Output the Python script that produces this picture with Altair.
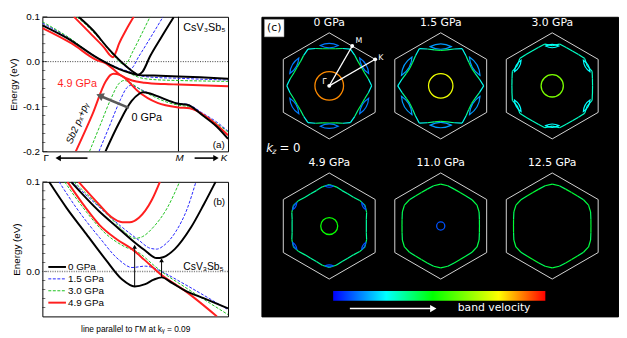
import math
import altair as alt
import pandas as pd

FONT = "Liberation Sans"
FONT_C = "DejaVu Sans"

# ---------------- series styling ----------------
PRESSURES = ["0 GPa", "1.5 GPa", "3.0 GPa", "4.9 GPa"]
LINE_COLORS = ["#000000", "#2424ff", "#1fc21f", "#ff1f1f"]
LINE_DASH = [None, [3, 1.6], [3, 1.6], None]
LINE_WIDTH = [2.0, 1.0, 1.0, 2.0]

# ---------------- panel (a): bands along Gamma-M-K (k: 0..1 across the plot, M at 0.733) ----------------
M_K = 0.733
A0_U_K = [0.195, 0.27, 0.358, 0.445, 0.497, 0.515, 0.54, 0.58, 0.64, 0.707]
A0_U_E = [0.100, 0.071, 0.028, -0.008, -0.025, -0.029, -0.022, 0.012, 0.054, 0.099]
A0_L_K = [0.0, 0.131, 0.305, 0.41, 0.48, 0.52, 0.60, 0.733, 0.85, 1.0]
A0_L_E = [0.081, 0.053, 0.006, -0.016, -0.026, -0.030, -0.031, -0.033, -0.035, -0.038]
A0_S_K = [0.34, 0.41, 0.48, 0.52, 0.54, 0.58, 0.62, 0.70, 0.733, 0.78, 0.864, 0.94, 1.0]
A0_S_E = [-0.200, -0.139, -0.088, -0.072, -0.068, -0.071, -0.077, -0.090, -0.094, -0.096, -0.120, -0.145, -0.172]

A1_U_K = [0.19, 0.27, 0.36, 0.42, 0.455, 0.475, 0.52, 0.58, 0.65]
A1_U_E = [0.100, 0.070, 0.027, 0.000, -0.013, -0.016, 0.012, 0.052, 0.100]
A1_L_K = [0.0, 0.131, 0.305, 0.41, 0.465, 0.52, 0.60, 0.733, 0.85, 1.0]
A1_L_E = [0.086, 0.056, 0.007, -0.014, -0.022, -0.031, -0.035, -0.037, -0.039, -0.041]
A1_S_K = [0.305, 0.36, 0.42, 0.455, 0.475, 0.50, 0.55, 0.62, 0.70, 0.733, 0.78, 0.864, 0.94, 1.0]
A1_S_E = [-0.200, -0.145, -0.085, -0.058, -0.053, -0.056, -0.066, -0.078, -0.090, -0.093, -0.095, -0.115, -0.135, -0.155]

A2_U_K = [0.185, 0.27, 0.35, 0.40, 0.425, 0.445, 0.49, 0.535, 0.58]
A2_U_E = [0.100, 0.068, 0.030, 0.006, -0.004, -0.006, 0.025, 0.062, 0.100]
A2_L_K = [0.0, 0.131, 0.305, 0.40, 0.45, 0.52, 0.60, 0.733, 0.85, 1.0]
A2_L_E = [0.089, 0.057, 0.006, -0.013, -0.022, -0.035, -0.040, -0.042, -0.043, -0.044]
A2_S_K = [0.254, 0.31, 0.37, 0.41, 0.44, 0.47, 0.52, 0.60, 0.70, 0.733, 0.78, 0.864, 0.94, 1.0]
A2_S_E = [-0.200, -0.143, -0.082, -0.050, -0.042, -0.046, -0.060, -0.078, -0.094, -0.097, -0.100, -0.118, -0.138, -0.157]

A3_U_K = [0.17, 0.27, 0.335, 0.365, 0.38, 0.395, 0.413, 0.45, 0.492]
A3_U_E = [0.100, 0.058, 0.030, 0.014, 0.010, 0.020, 0.040, 0.070, 0.100]
A3_L_K = [0.0, 0.16, 0.29, 0.342, 0.377, 0.42, 0.483, 0.55, 0.66, 0.733, 1.0]
A3_L_E = [0.075, 0.040, 0.004, -0.004, -0.015, -0.030, -0.042, -0.047, -0.050, -0.051, -0.055]
A3_S_K = [0.18, 0.27, 0.34, 0.366, 0.384, 0.42, 0.445, 0.515, 0.62, 0.733, 0.794, 0.90, 1.0]
A3_S_E = [-0.200, -0.117, -0.045, -0.030, -0.027, -0.030, -0.037, -0.066, -0.092, -0.102, -0.104, -0.128, -0.164]

A_TICKS_MAJOR = [-0.2, -0.1, 0.0, 0.1]
A_TICKS_MINOR = [-0.18, -0.16, -0.14, -0.12, -0.08, -0.06, -0.04, -0.02, 0.02, 0.04, 0.06, 0.08]

# ---------------- panel (b): line parallel to Gamma-M at ky = 0.09 ----------------
B0_LO_K = [0.036, 0.13, 0.236, 0.342, 0.43, 0.497, 0.554, 0.60, 0.642, 0.70, 0.766, 0.871, 1.0]
B0_LO_E = [0.100, 0.071, 0.042, 0.013, -0.009, -0.0167, -0.014, -0.009, -0.0065, -0.013, -0.021, -0.030, -0.041]
B0_UP_K = [0.155, 0.307, 0.40, 0.483, 0.55, 0.615, 0.65, 0.713, 0.80, 0.87, 0.933]
B0_UP_E = [0.100, 0.067, 0.050, 0.035, 0.024, 0.015, 0.016, 0.025, 0.049, 0.075, 0.100]
B1_LO_K = [0.09, 0.183, 0.307, 0.413, 0.483, 0.554, 0.60, 0.642, 0.765, 1.0]
B1_LO_E = [0.100, 0.071, 0.038, 0.013, 0.0045, 0.006, 0.004, 0.000, -0.014, -0.0425]
B1_UP_K = [0.16, 0.30, 0.42, 0.519, 0.58, 0.615, 0.66, 0.72, 0.78, 0.827]
B1_UP_E = [0.100, 0.073, 0.051, 0.035, 0.026, 0.025, 0.030, 0.045, 0.070, 0.100]
B2_LO_K = [0.12, 0.22, 0.342, 0.44, 0.519, 0.60, 0.642, 0.765, 1.0]
B2_LO_E = [0.100, 0.071, 0.042, 0.028, 0.021, 0.007, 0.000, -0.017, -0.048]
B2_UP_K = [0.17, 0.30, 0.40, 0.46, 0.50, 0.54, 0.60, 0.67, 0.739]
B2_UP_E = [0.100, 0.074, 0.053, 0.041, 0.037, 0.039, 0.050, 0.070, 0.100]
B3_LO_K = [0.135, 0.23, 0.307, 0.40, 0.483, 0.55, 0.642, 0.765, 0.94]
B3_LO_E = [0.100, 0.072, 0.052, 0.036, 0.025, 0.013, -0.004, -0.021, -0.050]
B3_UP_K = [0.195, 0.30, 0.37, 0.43, 0.47, 0.52, 0.59, 0.633]
B3_UP_E = [0.100, 0.076, 0.061, 0.055, 0.055, 0.060, 0.080, 0.100]

B_TICKS_MAJOR = [0.0, 0.1]
B_TICKS_MINOR = [-0.04, -0.03, -0.02, -0.01, 0.01, 0.02, 0.03, 0.04, 0.05, 0.06, 0.07, 0.08, 0.09]
B_ARROW_K = [0.497, 0.642]
B_ARROW_FROM = [-0.0167, -0.0065]
B_ARROW_TO = [0.030, 0.015]

# ---------------- panel (c): Fermi surfaces at kz = 0 (lengths in units of the BZ corner radius) ----------------
FS_LABELS = ["0 GPa", "1.5 GPa", "3.0 GPa", "4.9 GPa", "11.0 GPa", "12.5 GPa"]
FS_GAMMA_R = [0.27, 0.23, 0.21, 0.16, 0.077, 0.0]
FS_GAMMA_V = [0.88, 0.76, 0.62, 0.48, 0.08, 0.0]
FS_ANG = [0, 10, 20, 30]          # degrees from Gamma-M
FS_R = [[0.80, 0.75, 0.71, 0.70],
        [0.81, 0.74, 0.69, 0.67],
        [0.76, 0.77, 0.80, 0.76],
        [0.70, 0.71, 0.75, 0.78],
        [0.73, 0.74, 0.77, 0.79],
        [0.73, 0.74, 0.77, 0.79]]
FS_V = [[0.20, 0.32, 0.40, 0.42],
        [0.22, 0.30, 0.38, 0.42],
        [0.30, 0.30, 0.30, 0.28],
        [0.33, 0.33, 0.35, 0.42],
        [0.42, 0.40, 0.37, 0.45],
        [0.45, 0.40, 0.38, 0.45]]
FS_POCKET_D = [0.76, 0.74, 0.75, 0.75, 0.0, 0.0]
FS_POCKET_L = [0.34, 0.40, 0.25, 0.15, 0.0, 0.0]
FS_POCKET_V = [0.12, 0.15, 0.25, 0.08, 0.0, 0.0]
HEX_VX = [0.866, 0.0, -0.866, -0.866, 0.0, 0.866, 0.866]
HEX_VY = [0.5, 1.0, 0.5, -0.5, -1.0, -0.5, 0.5]
VEL_DOMAIN = [0.0, 0.25, 0.47, 0.78, 1.0]
VEL_RANGE = ["#0000ff", "#00ffff", "#00ff00", "#ffff00", "#ff0000"]

# ================= helpers =================


def band_frame(entries):
    rows = []
    for name, ks, es in entries:
        for k, e in zip(ks, es):
            rows.append({"band": name, "k": k, "E": e})
    return pd.DataFrame(rows)


def line_mark(i):
    kw = dict(interpolate="monotone", clip=True, color=LINE_COLORS[i], strokeWidth=LINE_WIDTH[i])
    if LINE_DASH[i] is not None:
        kw["strokeDash"] = LINE_DASH[i]
    return kw


PANEL_W = 189
PANEL_H = 137
HYPHEN_LABEL = "replace(format(datum.value, '.1f'), '\u2212', '-')"

# ================= panel (a) =================
SX_A = alt.Scale(domain=[0, 1], nice=False, zero=False)
SY_A = alt.Scale(domain=[-0.2, 0.1], nice=False, zero=False)
AX_Y_A = alt.Axis(values=A_TICKS_MAJOR, labelExpr=HYPHEN_LABEL, ticks=False, grid=False, domain=False,
                  labelFont=FONT, labelFontSize=10, labelPadding=3, labelColor="black",
                  title="Energy (eV)", titleFont=FONT, titleFontSize=10, titleFontWeight="normal",
                  titlePadding=4, titleColor="black")


def xa(f="k"):
    return alt.X(f"{f}:Q", scale=SX_A, axis=None)


def ya(f="E"):
    return alt.Y(f"{f}:Q", scale=SY_A, axis=AX_Y_A)


a_layers = []
a_layers.append(alt.Chart(pd.DataFrame({"k": [0.0] * len(A_TICKS_MINOR), "E": A_TICKS_MINOR}))
                .mark_tick(orient="horizontal", size=3, thickness=0.8, xOffset=1.5, color="black")
                .encode(x=xa(), y=ya()))
a_layers.append(alt.Chart(pd.DataFrame({"k": [0.0] * len(A_TICKS_MAJOR), "E": A_TICKS_MAJOR}))
                .mark_tick(orient="horizontal", size=5, thickness=0.8, xOffset=2.5, color="black")
                .encode(x=xa(), y=ya()))
a_layers.append(alt.Chart(pd.DataFrame({"E": [0.0]}))
                .mark_rule(color="black", strokeWidth=0.8, strokeDash=[1, 1.5])
                .encode(y=ya()))
a_layers.append(alt.Chart(pd.DataFrame({"k": [M_K]}))
                .mark_rule(color="black", strokeWidth=1)
                .encode(x=xa()))

A_SETS = [
    [("U", A0_U_K, A0_U_E), ("L", A0_L_K, A0_L_E), ("S", A0_S_K, A0_S_E)],
    [("U", A1_U_K, A1_U_E), ("L", A1_L_K, A1_L_E), ("S", A1_S_K, A1_S_E)],
    [("U", A2_U_K, A2_U_E), ("L", A2_L_K, A2_L_E), ("S", A2_S_K, A2_S_E)],
    [("U", A3_U_K, A3_U_E), ("L", A3_L_K, A3_L_E), ("S", A3_S_K, A3_S_E)],
]
for i in [1, 2, 3, 0]:
    a_layers.append(alt.Chart(band_frame(A_SETS[i])).mark_line(**line_mark(i))
                    .encode(x=xa(), y=ya(), detail="band:N"))

# gray arrow (pressure direction)
a_layers.append(alt.Chart(pd.DataFrame({"k": [0.466], "E": [-0.103], "k2": [0.309], "E2": [-0.076]}))
                .mark_rule(color="#5a5a5a", strokeWidth=2.6)
                .encode(x=xa(), y=ya(), x2="k2:Q", y2="E2:Q"))
a_layers.append(alt.Chart(pd.DataFrame({"k": [0.309], "E": [-0.076]}))
                .mark_point(shape="triangle-up", size=75, filled=True, color="#5a5a5a", opacity=1, angle=293)
                .encode(x=xa(), y=ya()))

# text annotations
a_layers.append(alt.Chart(pd.DataFrame({"k": [0.873], "E": [0.075], "t": ["CsV₃Sb₅"]}))
                .mark_text(font=FONT, fontSize=11, color="black", align="center", baseline="middle")
                .encode(x=xa(), y=ya(), text="t:N"))
a_layers.append(alt.Chart(pd.DataFrame({"k": [0.95], "E": [-0.187], "t": ["(a)"]}))
                .mark_text(font=FONT, fontSize=10, color="black", align="center", baseline="middle")
                .encode(x=xa(), y=ya(), text="t:N"))
a_layers.append(alt.Chart(pd.DataFrame({"k": [0.081], "E": [-0.050], "t": ["4.9 GPa"]}))
                .mark_text(font=FONT, fontSize=11, color="#ff1f1f", align="left", baseline="middle")
                .encode(x=xa(), y=ya(), text="t:N"))
a_layers.append(alt.Chart(pd.DataFrame({"k": [0.48], "E": [-0.126], "t": ["0 GPa"]}))
                .mark_text(font=FONT, fontSize=11, color="black", align="left", baseline="middle")
                .encode(x=xa(), y=ya(), text="t:N"))
a_layers.append(alt.Chart(pd.DataFrame({"k": [0.19], "E": [-0.137], "t": ["Sb2 pₓ+pᵧ"]}))
                .mark_text(font=FONT, fontSize=10, fontStyle="italic", color="black", align="center",
                           baseline="middle", angle=293)
                .encode(x=xa(), y=ya(), text="t:N"))
# high-symmetry labels under the panel
a_layers.append(alt.Chart(pd.DataFrame({"k": [0.02], "E": [-0.215], "t": ["Γ"]}))
                .mark_text(font=FONT, fontSize=10, color="black", align="center", baseline="middle")
                .encode(x=xa(), y=ya(), text="t:N"))
a_layers.append(alt.Chart(pd.DataFrame({"k": [0.739, 0.978], "E": [-0.215, -0.215], "t": ["M", "K"]}))
                .mark_text(font=FONT, fontSize=10, fontStyle="italic", color="black", align="center", baseline="middle")
                .encode(x=xa(), y=ya(), text="t:N"))
a_layers.append(alt.Chart(pd.DataFrame({"k": [0.085, 0.82], "E": [-0.215, -0.215], "k2": [0.243, 0.935]}))
                .mark_rule(color="black", strokeWidth=1.6)
                .encode(x=xa(), y=ya(), x2="k2:Q"))
a_layers.append(alt.Chart(pd.DataFrame({"k": [0.085], "E": [-0.215]}))
                .mark_point(shape="triangle-left", size=40, filled=True, color="black", opacity=1)
                .encode(x=xa(), y=ya()))
a_layers.append(alt.Chart(pd.DataFrame({"k": [0.935], "E": [-0.215]}))
                .mark_point(shape="triangle-right", size=40, filled=True, color="black", opacity=1)
                .encode(x=xa(), y=ya()))

chart_a = alt.layer(*a_layers).properties(width=PANEL_W, height=PANEL_H)

# ================= panel (b) =================
SX_B = alt.Scale(domain=[0, 1], nice=False, zero=False)
SY_B = alt.Scale(domain=[-0.05, 0.1], nice=False, zero=False)
AX_Y_B = alt.Axis(values=B_TICKS_MAJOR, labelExpr=HYPHEN_LABEL, ticks=False, grid=False, domain=False,
                  labelFont=FONT, labelFontSize=10, labelPadding=3, labelColor="black",
                  title="Energy (eV)", titleFont=FONT, titleFontSize=10, titleFontWeight="normal",
                  titlePadding=4, titleColor="black")
AX_X_B = alt.Axis(labels=False, ticks=False, grid=False, domain=False,
                  title="line parallel to ΓM at kᵧ = 0.09", titleFont=FONT, titleFontSize=8.5,
                  titleFontWeight="normal", titlePadding=8, titleColor="black")


def xb(f="k"):
    return alt.X(f"{f}:Q", scale=SX_B, axis=AX_X_B)


def yb(f="E"):
    return alt.Y(f"{f}:Q", scale=SY_B, axis=AX_Y_B)


b_layers = []
b_layers.append(alt.Chart(pd.DataFrame({"k": [0.0] * len(B_TICKS_MINOR), "E": B_TICKS_MINOR}))
                .mark_tick(orient="horizontal", size=3, thickness=0.8, xOffset=1.5, color="black")
                .encode(x=xb(), y=yb()))
b_layers.append(alt.Chart(pd.DataFrame({"k": [0.0] * len(B_TICKS_MAJOR), "E": B_TICKS_MAJOR}))
                .mark_tick(orient="horizontal", size=5, thickness=0.8, xOffset=2.5, color="black")
                .encode(x=xb(), y=yb()))
b_layers.append(alt.Chart(pd.DataFrame({"E": [0.0]}))
                .mark_rule(color="#8a8a8a", strokeWidth=1.6, strokeDash=[1.2, 1.2])
                .encode(y=yb()))

B_SETS = [
    [("lo", B0_LO_K, B0_LO_E), ("up", B0_UP_K, B0_UP_E)],
    [("lo", B1_LO_K, B1_LO_E), ("up", B1_UP_K, B1_UP_E)],
    [("lo", B2_LO_K, B2_LO_E), ("up", B2_UP_K, B2_UP_E)],
    [("lo", B3_LO_K, B3_LO_E), ("up", B3_UP_K, B3_UP_E)],
]
for i in [1, 2, 3, 0]:
    b_layers.append(alt.Chart(band_frame(B_SETS[i])).mark_line(**line_mark(i))
                    .encode(x=xb(), y=yb(), detail="band:N"))

# vertical transition arrows
arr = pd.DataFrame({"k": B_ARROW_K, "E": B_ARROW_FROM, "E2": [e - 0.0025 for e in B_ARROW_TO]})
b_layers.append(alt.Chart(arr).mark_rule(color="black", strokeWidth=1)
                .encode(x=xb(), y=yb(), y2="E2:Q"))
b_layers.append(alt.Chart(pd.DataFrame({"k": B_ARROW_K, "E": [e - 0.0025 for e in B_ARROW_TO]}))
                .mark_point(shape="triangle-up", size=22, filled=True, color="black", opacity=1)
                .encode(x=xb(), y=yb()))

# legend (drawn inside the plot)
for i in range(4):
    ey = 0.0051 - i * 0.01326
    kw = dict(color=LINE_COLORS[i], strokeWidth=LINE_WIDTH[i])
    if LINE_DASH[i] is not None:
        kw["strokeDash"] = LINE_DASH[i]
    b_layers.append(alt.Chart(pd.DataFrame({"k": [0.032], "k2": [0.127], "E": [ey]}))
                    .mark_rule(**kw).encode(x=xb(), x2="k2:Q", y=yb()))
    b_layers.append(alt.Chart(pd.DataFrame({"k": [0.138], "E": [ey], "t": [PRESSURES[i]]}))
                    .mark_text(font=FONT, fontSize=10, color="black", align="left", baseline="middle")
                    .encode(x=xb(), y=yb(), text="t:N"))

b_layers.append(alt.Chart(pd.DataFrame({"k": [0.952], "E": [0.077], "t": ["(b)"]}))
                .mark_text(font=FONT, fontSize=10, color="black", align="center", baseline="middle")
                .encode(x=xb(), y=yb(), text="t:N"))
b_layers.append(alt.Chart(pd.DataFrame({"k": [0.868], "E": [0.0045], "t": ["CsV₃Sb₅"]}))
                .mark_text(font=FONT, fontSize=10.5, color="black", align="center", baseline="middle")
                .encode(x=xb(), y=yb(), text="t:N"))

chart_b = alt.layer(*b_layers).properties(width=PANEL_W, height=PANEL_H)

# ================= panel (c) =================
UNIT = 54.0            # px per BZ corner radius
C_W, C_H = 363, 305
SX_C = alt.Scale(domain=[0, C_W / UNIT], nice=False, zero=False)
SY_C = alt.Scale(domain=[0, C_H / UNIT], nice=False, zero=False)
VSCALE = alt.Scale(domain=VEL_DOMAIN, range=VEL_RANGE, interpolate="rgb")


def xc(f="x"):
    return alt.X(f"{f}:Q", scale=SX_C, axis=None)


def yc(f="y"):
    return alt.Y(f"{f}:Q", scale=SY_C, axis=None)


def center(i):
    col, row = i % 3, i // 3
    return 1.278 + 2.102 * col, 4.346 - 2.642 * row


hex_rows, seg_rows, gam_rows, pock_rows, lab_rows = [], [], [], [], []
for i, lab in enumerate(FS_LABELS):
    cx, cy = center(i)
    for j, (vx, vy) in enumerate(zip(HEX_VX, HEX_VY)):
        hex_rows.append({"p": lab, "o": j, "x": cx + vx, "y": cy + vy})
    pts = []
    for n in range(6):
        for j, a in enumerate([0, 10, 20, 30, 40, 50]):
            jj = j if j <= 3 else 6 - j
            th = math.radians(60 * n + a)
            r = FS_R[i][jj]
            pts.append((cx + r * math.cos(th), cy + r * math.sin(th), FS_V[i][jj]))
    for m in range(len(pts)):
        p0, p1 = pts[m], pts[(m + 1) % len(pts)]
        seg_rows.append({"x": p0[0], "y": p0[1], "x2": p1[0], "y2": p1[1], "v": 0.5 * (p0[2] + p1[2])})
    if FS_GAMMA_R[i] > 0:
        gam_rows.append({"x": cx, "y": cy, "v": FS_GAMMA_V[i], "sz": (2 * FS_GAMMA_R[i] * UNIT) ** 2})
    if FS_POCKET_L[i] > 0:
        for n in range(6):
            th = 30 + 60 * n
            d = FS_POCKET_D[i]
            pock_rows.append({"x": cx + d * math.cos(math.radians(th)), "y": cy + d * math.sin(math.radians(th)),
                              "v": FS_POCKET_V[i], "sz": (FS_POCKET_L[i] * UNIT) ** 2,
                              "ang": (-(th + 90)) % 180})
    lab_rows.append({"x": cx, "y": cy + 1.178, "t": lab})

LENS = "M-1,0Q0,-0.5,1,0Q0,0.5,-1,0Z"

c_layers = []
# invisible glyph that gives panel (c) the same top extent as panel (a)'s top tick label
c_layers.append(alt.Chart(pd.DataFrame({"x": [3.0], "y": [C_H / UNIT], "t": ["0"]}))
                .mark_text(fontSize=10, baseline="middle", opacity=0, color="black")
                .encode(x=xc(), y=yc(), text="t:N"))
c_layers.append(alt.Chart(pd.DataFrame(hex_rows)).mark_line(color="#d6d6d6", strokeWidth=1)
                .encode(x=xc(), y=yc(), detail="p:N", order="o:Q"))
c_layers.append(alt.Chart(pd.DataFrame(seg_rows)).mark_rule(strokeWidth=1.2)
                .encode(x=xc(), y=yc(), x2="x2:Q", y2="y2:Q",
                        color=alt.Color("v:Q", scale=VSCALE, legend=None)))
c_layers.append(alt.Chart(pd.DataFrame(gam_rows)).mark_point(shape="circle", filled=False, strokeWidth=1.3, opacity=1)
                .encode(x=xc(), y=yc(), size=alt.Size("sz:Q", scale=None),
                        color=alt.Color("v:Q", scale=VSCALE, legend=None)))
c_layers.append(alt.Chart(pd.DataFrame(pock_rows)).mark_point(shape=LENS, filled=False, strokeWidth=1.2, opacity=1)
                .encode(x=xc(), y=yc(), size=alt.Size("sz:Q", scale=None), angle=alt.Angle("ang:Q", scale=None),
                        color=alt.Color("v:Q", scale=VSCALE, legend=None)))
# Gamma-M and Gamma-K in the first panel
gx, gy = center(0)
mx, my = gx + 0.866 * math.cos(math.radians(60)), gy + 0.866 * math.sin(math.radians(60))
kx, ky = gx + math.cos(math.radians(30)), gy + math.sin(math.radians(30))
c_layers.append(alt.Chart(pd.DataFrame({"x": [gx, gx], "y": [gy, gy], "x2": [mx, kx], "y2": [my, ky]}))
                .mark_rule(color="white", strokeWidth=1.2)
                .encode(x=xc(), y=yc(), x2="x2:Q", y2="y2:Q"))
c_layers.append(alt.Chart(pd.DataFrame({"x": [gx, mx, kx], "y": [gy, my, ky]}))
                .mark_point(shape="circle", size=16, filled=True, color="white", opacity=1)
                .encode(x=xc(), y=yc()))
c_layers.append(alt.Chart(pd.DataFrame({"x": [mx + 0.06, kx + 0.06], "y": [my + 0.1, ky + 0.02], "t": ["M", "K"]}))
                .mark_text(font=FONT_C, fontSize=8, color="white", align="left", baseline="middle")
                .encode(x=xc(), y=yc(), text="t:N"))
c_layers.append(alt.Chart(pd.DataFrame({"x": [gx - 0.05], "y": [gy + 0.07], "t": ["Γ"]}))
                .mark_text(font=FONT_C, fontSize=8, color="white", align="right", baseline="middle")
                .encode(x=xc(), y=yc(), text="t:N"))
# panel titles
c_layers.append(alt.Chart(pd.DataFrame(lab_rows))
                .mark_text(font=FONT_C, fontSize=11, color="white", align="center", baseline="middle")
                .encode(x=xc(), y=yc(), text="t:N"))
# (c) box
c_layers.append(alt.Chart(pd.DataFrame({"x": [0.056], "x2": [0.426], "y": [5.27], "y2": [5.60]}))
                .mark_rect(color="white", stroke="#999999", strokeWidth=0.5)
                .encode(x=xc(), x2="x2:Q", y=yc(), y2="y2:Q"))
c_layers.append(alt.Chart(pd.DataFrame({"x": [0.241], "y": [5.435], "t": ["(c)"]}))
                .mark_text(font=FONT_C, fontSize=11, color="black", align="center", baseline="middle")
                .encode(x=xc(), y=yc(), text="t:N"))
# k_z = 0
c_layers.append(alt.Chart(pd.DataFrame({"x": [0.093], "y": [3.17], "t": ["k"]}))
                .mark_text(font=FONT_C, fontSize=12, fontStyle="italic", color="white", align="left", baseline="middle")
                .encode(x=xc(), y=yc(), text="t:N"))
c_layers.append(alt.Chart(pd.DataFrame({"x": [0.205], "y": [3.09], "t": ["z"]}))
                .mark_text(font=FONT_C, fontSize=8, fontStyle="italic", color="white", align="left", baseline="middle")
                .encode(x=xc(), y=yc(), text="t:N"))
c_layers.append(alt.Chart(pd.DataFrame({"x": [0.34], "y": [3.17], "t": ["= 0"]}))
                .mark_text(font=FONT_C, fontSize=12, color="white", align="left", baseline="middle")
                .encode(x=xc(), y=yc(), text="t:N"))
# colour bar
GRAD = alt.LinearGradient(gradient="linear", x1=0, x2=1, y1=0, y2=0,
                          stops=[alt.GradientStop(color=c, offset=o) for c, o in zip(VEL_RANGE, VEL_DOMAIN)])
c_layers.append(alt.Chart(pd.DataFrame({"x": [1.352], "x2": [5.352], "y": [0.296], "y2": [0.481]}))
                .mark_rect(color=GRAD)
                .encode(x=xc(), x2="x2:Q", y=yc(), y2="y2:Q"))
c_layers.append(alt.Chart(pd.DataFrame({"x": [1.667], "x2": [3.22], "y": [0.148]}))
                .mark_rule(color="white", strokeWidth=1.6)
                .encode(x=xc(), x2="x2:Q", y=yc()))
c_layers.append(alt.Chart(pd.DataFrame({"x": [3.24], "y": [0.148]}))
                .mark_point(shape="triangle-right", size=55, filled=True, color="white", opacity=1)
                .encode(x=xc(), y=yc()))
c_layers.append(alt.Chart(pd.DataFrame({"x": [3.70], "y": [0.148], "t": ["band velocity"]}))
                .mark_text(font=FONT_C, fontSize=11, color="white", align="left", baseline="middle")
                .encode(x=xc(), y=yc(), text="t:N"))

chart_c = alt.layer(*c_layers).properties(
    width=C_W, height=C_H, view=alt.ViewBackground(fill="black", stroke="black"))

left = alt.vconcat(chart_a, chart_b, spacing=31, bounds="flush")
chart = (alt.hconcat(left, chart_c, spacing=31)
         .properties(padding=0)
         .configure_view(stroke="black", strokeWidth=1))

chart.save("out.html", embed_options={"renderer": "svg", "actions": False})
